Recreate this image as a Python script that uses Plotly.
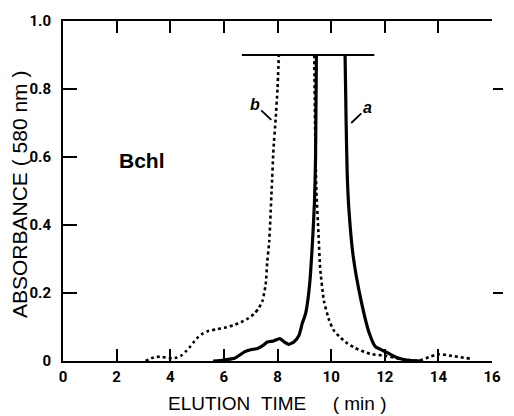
import plotly.graph_objects as go

# ---- data ----
# curve a (solid) – left flank up to the off-scale cut, then right flank
a_left_x = [5.6, 6.0, 6.4, 6.77, 7.0, 7.26, 7.45, 7.62, 7.85, 8.09, 8.25, 8.42, 8.61, 8.8, 8.92, 9.05, 9.2, 9.32, 9.38, 9.42, 9.45]
a_left_y = [0.0, 0.003, 0.008, 0.027, 0.033, 0.037, 0.045, 0.056, 0.059, 0.066, 0.056, 0.049, 0.056, 0.075, 0.11, 0.14, 0.227, 0.372, 0.47, 0.6, 0.9]
a_right_x = [10.52, 10.56, 10.6, 10.66, 10.82, 11.12, 11.43, 11.65, 12.04, 12.4, 12.66, 13.0, 13.4]
a_right_y = [0.9, 0.7, 0.55, 0.45, 0.31, 0.177, 0.08, 0.042, 0.027, 0.012, 0.005, 0.001, 0.0]

# curve b (dotted)
b_left_x = [3.08, 3.3, 3.45, 3.7, 4.06, 4.25, 4.43, 4.6, 4.74, 4.9, 5.05, 5.2, 5.41, 5.7, 6.03, 6.35, 6.64, 6.9, 7.13, 7.3, 7.44, 7.56, 7.62, 7.69, 7.78, 7.85, 7.93, 8.0, 8.05]
b_left_y = [0.0, 0.008, 0.012, 0.012, 0.008, 0.01, 0.017, 0.03, 0.042, 0.058, 0.071, 0.08, 0.088, 0.093, 0.098, 0.105, 0.114, 0.125, 0.139, 0.155, 0.177, 0.226, 0.294, 0.35, 0.5, 0.623, 0.71, 0.8, 0.9]
b_right_x = [9.37, 9.4, 9.45, 9.53, 9.59, 9.73, 9.93, 10.1, 10.32, 10.6, 10.9, 11.45, 12.04, 12.66, 13.27, 13.64, 14.0, 14.5, 15.17]
b_right_y = [0.9, 0.7, 0.5, 0.372, 0.274, 0.177, 0.119, 0.09, 0.071, 0.052, 0.038, 0.021, 0.015, 0.005, 0.001, 0.011, 0.02, 0.015, 0.007]

# off-scale cut line
cut_x = [6.67, 11.61]
cut_y = [0.9, 0.9]

x_ticks = [0, 2, 4, 6, 8, 10, 12, 14, 16]
x_ticktext = ["0", "2", "4", "6", "8", "10", "12", "14", "16"]
y_ticks = [0, 0.2, 0.4, 0.6, 0.8, 1.0]
y_ticktext = ["0", "0.2", "0.4", "0.6", "0.8", "1.0"]
y_right_ticks = [0.2, 0.8]

# curve labels: text position and leader tip
lab_b = dict(text="b", tx=7.15, ty=0.755, px=7.77, py=0.709)
lab_a = dict(text="a", tx=11.35, ty=0.745, px=10.75, py=0.70)
sample_label = dict(text="Bchl", x=2.93, y=0.59)

# ---- figure ----
fig = go.Figure()

solid = dict(color="black", width=3.2)
dotted = dict(color="black", width=2.6, dash="dot")

fig.add_trace(go.Scatter(x=a_left_x, y=a_left_y, mode="lines", line=dict(**solid, shape="spline", smoothing=0.5)))
fig.add_trace(go.Scatter(x=a_right_x, y=a_right_y, mode="lines", line=dict(**solid, shape="spline", smoothing=0.5)))
fig.add_trace(go.Scatter(x=b_left_x, y=b_left_y, mode="lines", line=dict(**dotted, shape="spline", smoothing=0.5)))
fig.add_trace(go.Scatter(x=b_right_x, y=b_right_y, mode="lines", line=dict(**dotted, shape="spline", smoothing=0.5)))
fig.add_trace(go.Scatter(x=cut_x, y=cut_y, mode="lines", line=dict(color="black", width=1.8)))
# invisible trace to carry the right-hand tick axis
fig.add_trace(go.Scatter(x=[0], y=[0], yaxis="y2", mode="markers", marker=dict(opacity=0), hoverinfo="skip"))

tick_font = dict(family="Roboto, Liberation Sans, sans-serif",
                 size=15, color="black", weight="bold")

fig.update_layout(
    width=514, height=416,
    margin=dict(l=63, r=14, t=17, b=55),
    paper_bgcolor="white", plot_bgcolor="white",
    showlegend=False,
    xaxis=dict(range=[0, 16], tickvals=x_ticks, ticktext=x_ticktext,
               showline=True, linecolor="black", linewidth=2, mirror="ticks",
               ticks="inside", ticklen=12, tickwidth=2, tickcolor="black",
               showgrid=False, zeroline=False, tickfont=tick_font,
               ticklabelstandoff=1),
    yaxis=dict(range=[0, 1], tickvals=y_ticks, ticktext=y_ticktext,
               showline=True, linecolor="black", linewidth=2,
               ticks="inside", ticklen=14, tickwidth=2, tickcolor="black",
               showgrid=False, zeroline=False, tickfont=tick_font,
               ticklabelstandoff=7),
    yaxis2=dict(range=[0, 1], overlaying="y", side="right", tickvals=y_right_ticks,
                showline=False, ticks="outside", ticklen=10, tickwidth=1.5,
                tickcolor="black", showticklabels=False, showgrid=False, zeroline=False),
)

fig.add_annotation(text="ABSORBANCE\u00a0(\u00a0580\u00a0nm\u00a0)", textangle=-90,
                   xref="paper", yref="paper", x=0, y=0.5, xanchor="center", yanchor="middle",
                   xshift=-44, yshift=-4,
                   showarrow=False, font=dict(family="Liberation Sans, Arial, sans-serif", size=21, color="black"))
fig.add_annotation(text="ELUTION\u00a0\u00a0TIME\u00a0\u00a0\u00a0\u00a0\u00a0(\u00a0min\u00a0)",
                   xref="paper", yref="paper", x=0.5, y=0, xanchor="center", yanchor="middle",
                   yshift=-42,
                   showarrow=False, font=dict(family="Liberation Sans, Arial, sans-serif", size=19, color="black"))
fig.add_annotation(text=sample_label["text"], x=sample_label["x"], y=sample_label["y"],
                   showarrow=False, font=dict(family="Liberation Sans, Arial, sans-serif", size=21, color="black", weight="bold"))
for lab in (lab_b, lab_a):
    fig.add_annotation(text="<b><i>%s</i></b>" % lab["text"], x=lab["px"], y=lab["py"],
                       ax=lab["tx"], ay=lab["ty"], axref="x", ayref="y",
                       showarrow=True, arrowhead=0, arrowwidth=1.8, arrowcolor="black",
                       font=dict(family="Liberation Sans, Arial, sans-serif", size=16, color="black"))

fig.write_html("out.html")
